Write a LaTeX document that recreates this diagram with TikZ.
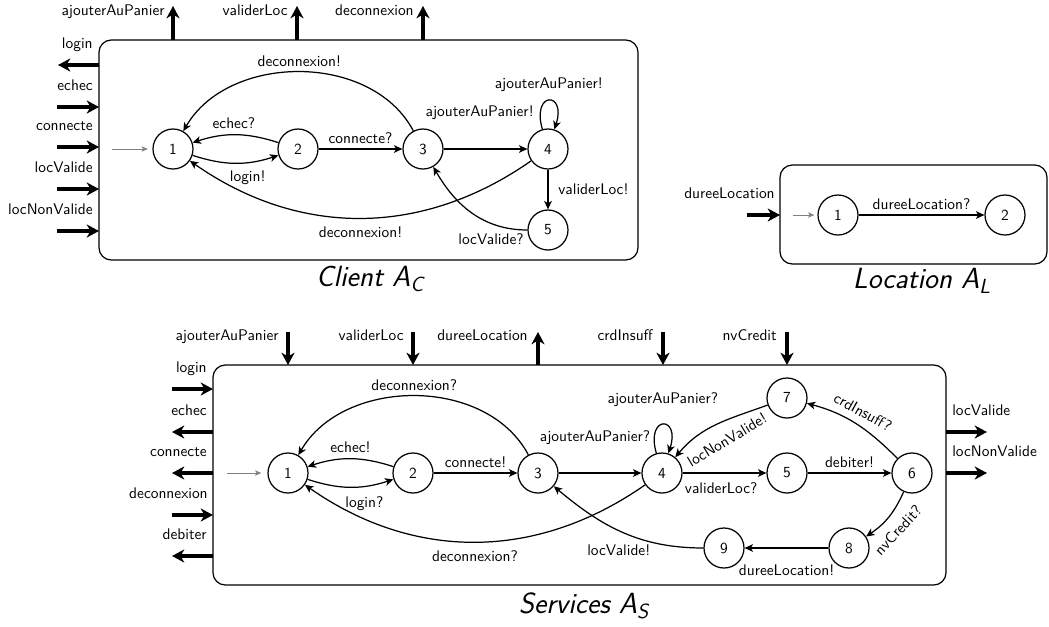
\documentclass[tikz,border=0pt]{standalone}
\usepackage{fontspec}
\usetikzlibrary{arrows.meta}
\begin{document}
\begin{tikzpicture}[x=0.65pt,y=0.65pt,
  font=\sffamily,
  state/.style={circle,draw,line width=0.8pt,minimum size=26pt,inner sep=0pt},
  tr/.style={line width=0.8pt,-{Stealth[length=5.5pt,width=5pt,inset=1.5pt]}},
  port/.style={line width=2.8pt,-{Stealth[length=8pt,width=8.5pt,inset=2.5pt]}},
  init/.style={draw=gray,line width=0.5pt,-{Stealth[length=4pt,width=3.5pt,inset=1pt]}},
  box/.style={draw,line width=0.8pt,rounded corners=8pt},
  ttl/.style={font=\fontsize{19}{23}\selectfont\sffamily\slshape},
  pl/.style={inner sep=0pt},
  selfloop/.style={out=106,in=72,looseness=8.5},
]
\useasboundingbox (0,0) rectangle (1049,-626);

% ================= Client =================
\draw[box] (99,-40) rectangle (638,-260);
\node[ttl] (tc) at (370,-279) {Client A\textsubscript{C}};

\node[state] (c1) at (173,-149) {1};
\node[state] (c2) at (298,-149) {2};
\node[state] (c3) at (423,-149) {3};
\node[state] (c4) at (548,-149) {4};
\node[state] (c5) at (548,-230) {5};

\coordinate (ci) at (112,-149);
\draw[init,shorten >=3pt] (ci) -- (c1);

\draw[tr] (c1) to[bend right=18] node[pos=.65,below=2pt] {login!} (c2);
\draw[tr] (c2) to[bend right=18] node[pos=.52,above] {echec?} (c1);
\draw[tr] (c2) -- node[above] {connecte?} (c3);
\draw[tr] (c3) -- node[pos=.43,yshift=23.4pt] {ajouterAuPanier!} (c4);
\draw[tr] (c4) to[selfloop] node[above=2pt] {ajouterAuPanier!} (c4);
\draw[tr] (c4) -- node[right=3pt] {validerLoc!} (c5);
\draw[tr] (c5) to[out=180,in=-60] node[pos=0,anchor=north east,inner sep=2pt] {locValide?} (c3);
\draw[tr] (c3) to[out=118,in=60] node[above] {deconnexion!} (c1);
\draw[tr] (c4) to[out=215,in=-35] node[below=2pt] {deconnexion!} (c1);

% Client ports (left)
\coordinate (ca1) at (99,-65);  \coordinate (cb1) at (58,-65);
\coordinate (ca2) at (57,-107); \coordinate (cb2) at (99,-107);
\coordinate (ca3) at (57,-147); \coordinate (cb3) at (99,-147);
\coordinate (ca4) at (57,-189); \coordinate (cb4) at (99,-189);
\coordinate (ca5) at (57,-231); \coordinate (cb5) at (99,-231);
\draw[port] (ca1) -- (cb1);
\draw[port] (ca2) -- (cb2);
\draw[port] (ca3) -- (cb3);
\draw[port] (ca4) -- (cb4);
\draw[port] (ca5) -- (cb5);
\node[pl,anchor=base east] (cl1) at (93,-48) {login};
\node[pl,anchor=base east] (cl2) at (93,-90) {echec};
\node[pl,anchor=base east] (cl3) at (93,-130) {connecte};
\node[pl,anchor=base east] (cl4) at (93,-172) {locValide};
\node[pl,anchor=base east] (cl5) at (93,-214) {locNonValide};
% Client ports (top)
\coordinate (cta1) at (173,-40); \coordinate (ctb1) at (173,-6);
\coordinate (cta2) at (297,-40); \coordinate (ctb2) at (297,-6);
\coordinate (cta3) at (423,-40); \coordinate (ctb3) at (423,-6);
\draw[port] (cta1) -- (ctb1);
\draw[port] (cta2) -- (ctb2);
\draw[port] (cta3) -- (ctb3);
\node[pl,anchor=base east] (ctl1) at (165,-15) {ajouterAuPanier};
\node[pl,anchor=base east] (ctl2) at (288,-15) {validerLoc};
\node[pl,anchor=base east] (ctl3) at (414,-15) {deconnexion};

% ================= Location =================
\draw[box] (780,-165) rectangle (1047,-264);
\node[ttl] (tl) at (922,-281) {Location A\textsubscript{L}};
\node[state] (l1) at (838,-215) {1};
\node[state] (l2) at (1005,-215) {2};
\coordinate (li) at (793,-215);
\draw[init,shorten >=2pt] (li) -- (l1);
\draw[tr] (l1) -- node[above] {dureeLocation?} (l2);
\coordinate (la1) at (747,-215); \coordinate (lb1) at (780,-215);
\draw[port] (la1) -- (lb1);
\node[pl,anchor=base east] (ll1) at (775,-198) {dureeLocation};

% ================= Services =================
\draw[box] (213,-365) rectangle (946,-585);
\node[ttl] (ts) at (584,-606) {Services A\textsubscript{S}};

\node[state] (s1) at (288,-473) {1};
\node[state] (s2) at (413,-473) {2};
\node[state] (s3) at (538,-473) {3};
\node[state] (s4) at (662,-473) {4};
\node[state] (s5) at (787,-473) {5};
\node[state] (s6) at (912,-473) {6};
\node[state] (s7) at (787,-398) {7};
\node[state] (s8) at (849,-548) {8};
\node[state] (s9) at (724,-548) {9};

\coordinate (si) at (227,-473);
\draw[init,shorten >=4pt] (si) -- (s1);

\draw[tr] (s1) to[bend right=18] node[pos=.67,below=3pt] {login?} (s2);
\draw[tr] (s2) to[bend right=18] node[pos=.5,above] {echec!} (s1);
\draw[tr] (s2) -- node[above] {connecte!} (s3);
\draw[tr] (s3) -- node[pos=.44,yshift=22.8pt] {ajouterAuPanier?} (s4);
\draw[tr] (s4) to[selfloop] node[above=8pt] {ajouterAuPanier?} (s4);
\draw[tr] (s4) -- node[pos=.46,below=2.5pt] {validerLoc?} (s5);
\draw[tr] (s5) -- node[above] {debiter!} (s6);
\draw[tr] (s6) to[out=135,in=-15] (s7);
\draw[tr] (s7) to[out=200,in=50] (s4);
\draw[tr] (s6) to[out=-114,in=34] (s8);
\node[rotate=-29] (lcr) at (863,-412) {crdInsuff?};
\node[rotate=31] (lnv) at (727,-440) {locNonValide!};
\node[rotate=47] (lnc) at (898,-530) {nvCredit?};
\draw[tr] (s8) -- node[below=7pt] {dureeLocation!} (s9);
\draw[tr] (s9) to[out=180,in=-40] node[pos=.3,anchor=north east,inner sep=1pt] {locValide!} (s3);
\draw[tr] (s3) to[out=118,in=60] node[above] {deconnexion?} (s1);
\draw[tr] (s4) to[out=215,in=-35] node[below=2pt] {deconnexion?} (s1);

% Services ports (left)
\coordinate (sa1) at (172,-389); \coordinate (sb1) at (213,-389);
\coordinate (sa2) at (213,-432); \coordinate (sb2) at (172,-432);
\coordinate (sa3) at (213,-473); \coordinate (sb3) at (172,-473);
\coordinate (sa4) at (172,-515); \coordinate (sb4) at (213,-515);
\coordinate (sa5) at (213,-556); \coordinate (sb5) at (172,-556);
\draw[port] (sa1) -- (sb1);
\draw[port] (sa2) -- (sb2);
\draw[port] (sa3) -- (sb3);
\draw[port] (sa4) -- (sb4);
\draw[port] (sa5) -- (sb5);
\node[pl,anchor=base east] (sl1) at (207,-372) {login};
\node[pl,anchor=base east] (sl2) at (207,-415) {echec};
\node[pl,anchor=base east] (sl3) at (207,-456) {connecte};
\node[pl,anchor=base east] (sl4) at (208,-498) {deconnexion};
\node[pl,anchor=base east] (sl5) at (207,-539) {debiter};
% Services ports (top)
\coordinate (sta1) at (288,-332); \coordinate (stb1) at (288,-365);
\coordinate (sta2) at (413,-332); \coordinate (stb2) at (413,-365);
\coordinate (sta3) at (538,-365); \coordinate (stb3) at (538,-332);
\coordinate (sta4) at (663,-332); \coordinate (stb4) at (663,-365);
\coordinate (sta5) at (787,-332); \coordinate (stb5) at (787,-365);
\draw[port] (sta1) -- (stb1);
\draw[port] (sta2) -- (stb2);
\draw[port] (sta3) -- (stb3);
\draw[port] (sta4) -- (stb4);
\draw[port] (sta5) -- (stb5);
\node[pl,anchor=base east] (stl1) at (279,-340) {ajouterAuPanier};
\node[pl,anchor=base east] (stl2) at (404,-340) {validerLoc};
\node[pl,anchor=base east] (stl3) at (528,-340) {dureeLocation};
\node[pl,anchor=base east] (stl4) at (653,-340) {crdInsuff};
\node[pl,anchor=base east] (stl5) at (777,-340) {nvCredit};
% Services ports (right)
\coordinate (sra1) at (946,-432); \coordinate (srb1) at (987,-432);
\coordinate (sra2) at (946,-473); \coordinate (srb2) at (987,-473);
\draw[port] (sra1) -- (srb1);
\draw[port] (sra2) -- (srb2);
\node[pl,anchor=base west] (srl1) at (952,-415) {locValide};
\node[pl,anchor=base west] (srl2) at (952,-456) {locNonValide};
\end{tikzpicture}
\end{document}
